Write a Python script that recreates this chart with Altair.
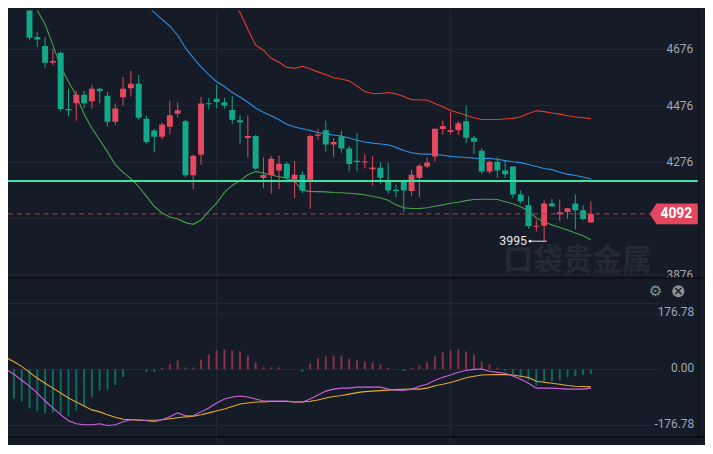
import altair as alt
import pandas as pd

# ---------------- data ----------------
# candles, first visible candle is bar index 3
opens = [4860, 4720, 4688, 4628, 4664, 4464, 4485, 4515, 4492, 4536,
         4511, 4419, 4506, 4538, 4554, 4430, 4388, 4366, 4401, 4447,
         4421, 4229, 4302, 4485, 4501, 4488, 4461, 4424, 4361, 4368,
         4219, 4230, 4246, 4270, 4213, 4231, 4213, 4369, 4389, 4338,
         4367, 4324, 4281, 4274, 4250, 4256, 4210, 4178, 4208, 4173,
         4220, 4260, 4296, 4393, 4383, 4389, 4421, 4362, 4316, 4242,
         4277, 4246, 4260, 4161, 4123, 4046, 4050, 4129, 4091, 4099,
         4129, 4105, 4061]
highs = [4878, 4739, 4719, 4678, 4669, 4536, 4529, 4529, 4550, 4540,
         4524, 4484, 4578, 4599, 4585, 4441, 4394, 4417, 4494, 4488,
         4426, 4302, 4508, 4503, 4550, 4504, 4510, 4442, 4442, 4372,
         4292, 4297, 4299, 4277, 4280, 4243, 4374, 4392, 4423, 4361,
         4387, 4333, 4378, 4304, 4297, 4274, 4274, 4196, 4213, 4248,
         4269, 4292, 4394, 4424, 4454, 4422, 4476, 4368, 4325, 4281,
         4292, 4281, 4260, 4175, 4154, 4070, 4140, 4146, 4143, 4112,
         4161, 4122, 4137]
lows = [4708, 4684, 4611, 4620, 4456, 4439, 4423, 4466, 4466, 4485,
        4402, 4407, 4476, 4508, 4426, 4341, 4310, 4357, 4374, 4435,
        4222, 4180, 4266, 4462, 4466, 4466, 4411, 4341, 4292, 4249,
        4183, 4164, 4180, 4204, 4148, 4166, 4111, 4355, 4313, 4295,
        4309, 4243, 4243, 4253, 4192, 4199, 4164, 4152, 4099, 4157,
        4150, 4255, 4278, 4373, 4374, 4373, 4343, 4304, 4234, 4234,
        4220, 4220, 4148, 4129, 4040, 4029, 3995, 4117, 4068, 4075,
        4037, 4068, 4061]
closes = [4717, 4711, 4628, 4635, 4464, 4460, 4515, 4485, 4536, 4527,
          4419, 4466, 4536, 4554, 4433, 4347, 4366, 4409, 4442, 4460,
          4229, 4298, 4484, 4481, 4489, 4477, 4426, 4417, 4368, 4253,
          4230, 4288, 4270, 4220, 4231, 4175, 4368, 4374, 4338, 4347,
          4324, 4269, 4276, 4278, 4257, 4220, 4175, 4173, 4175, 4231,
          4263, 4274, 4394, 4404, 4389, 4414, 4362, 4348, 4242, 4277,
          4246, 4233, 4161, 4137, 4049, 4050, 4129, 4119, 4098, 4112,
          4105, 4074, 4092]

# Bollinger bands (upper from bar 27, middle from bar 17, lower from bar 2)
upper_band = [5017, 4930, 4853, 4807, 4747, 4691, 4673, 4644, 4630, 4612,
              4609, 4616, 4606, 4596, 4586, 4575, 4571, 4564, 4546, 4526,
              4519, 4519, 4523, 4518, 4509, 4497, 4497, 4495, 4484, 4472,
              4459, 4451, 4442, 4433, 4427, 4427, 4427, 4429, 4431, 4437,
              4448, 4458, 4455, 4450, 4446, 4440, 4436, 4433, 4430]
mid_band = [4849, 4831, 4807, 4782, 4758, 4726, 4681, 4646, 4614, 4586,
            4561, 4544, 4523, 4507, 4488, 4468, 4453, 4440, 4426, 4410,
            4400, 4394, 4388, 4381, 4376, 4372, 4368, 4361, 4353, 4347,
            4343, 4340, 4337, 4328, 4317, 4309, 4305, 4304, 4303, 4300,
            4296, 4294, 4292, 4290, 4289, 4289, 4286, 4281, 4277, 4274,
            4267, 4260, 4253, 4249, 4240, 4233, 4228, 4223, 4216]
lower_band = [4877, 4842, 4814, 4765, 4691, 4614, 4561, 4512, 4446, 4396,
              4354, 4312, 4267, 4239, 4217, 4189, 4154, 4119, 4095, 4081,
              4074, 4061, 4055, 4070, 4102, 4130, 4168, 4193, 4210, 4231,
              4242, 4237, 4230, 4224, 4219, 4207, 4175, 4172, 4171, 4170,
              4168, 4167, 4165, 4163, 4160, 4154, 4149, 4140, 4124, 4114,
              4111, 4111, 4114, 4119, 4124, 4130, 4133, 4139, 4143, 4144,
              4144, 4143, 4135, 4128, 4117, 4102, 4077, 4063, 4053, 4044,
              4035, 4024, 4014, 4000]

# MACD panel (bars 0..75)
hist = [-80.1, -92.6, -100.7, -123.8, -131.9, -139.4, -135.0, -142.5, -147.5, -130.0,
        -116.3, -88.2, -67.7, -64.5, -49.0, -24.0, 0, 0, -8.4, -8.4,
        4.1, 15.6, 28.1, 6.2, 6.2, 31.2, 46.8, 59.2, 62.4, 59.2,
        56.1, 43.7, 21.8, 6.2, 6.2, 6.2, 0, 0, -8.4, 18.7,
        34.3, 40.5, 43.7, 43.7, 34.3, 28.1, 24.9, 21.8, 15.6, 4.1,
        0, -5.3, 4.1, 12.5, 21.8, 40.5, 53.0, 59.2, 62.4, 56.1,
        46.8, 24.9, 15.6, 6.2, -5.3, -15.6, -24.9, -34.3, -50.8, -38.4,
        -37.4, -34.3, -24.9, -20.9, -17.8, -14.7]
dif = [0, -15.6, -34.3, -53.0, -74.8, -99.8, -121.6, -143.4, -162.1, -171.5,
       -174.6, -174.6, -171.5, -176.78, -174.6, -165.3, -159.0, -159.0, -162.1, -165.3,
       -159.0, -149.7, -137.2, -146.5, -146.5, -134.1, -121.6, -106.0, -93.5, -87.3,
       -84.2, -87.3, -93.5, -99.8, -99.8, -99.8, -99.8, -102.9, -102.9, -93.5,
       -81.1, -68.6, -62.4, -59.2, -59.2, -56.1, -56.1, -56.1, -56.1, -62.4,
       -65.5, -65.5, -62.4, -53.0, -46.8, -34.3, -24.9, -17.8, -9.4, -3.1,
       0, 0.9, -6.2, -9.4, -12.5, -20.9, -31.2, -43.7, -59.2, -59.2,
       -59.2, -60.8, -62.4, -62.4, -62.4, -59.2]
dea = [37.4, 24.0, 9.4, -9.4, -28.1, -43.7, -59.2, -74.8, -90.4, -102.9,
       -115.4, -127.8, -134.1, -143.4, -151.2, -157.5, -159.0, -160.6, -160.6, -160.6,
       -159.0, -155.9, -152.8, -149.7, -148.1, -143.4, -137.2, -131.0, -124.7, -116.9,
       -109.1, -106.0, -102.9, -102.9, -101.3, -101.3, -101.3, -102.9, -102.9, -100.7,
       -96.7, -90.4, -85.7, -82.6, -78.0, -73.3, -70.2, -68.6, -67.0, -65.5,
       -63.9, -63.0, -62.4, -62.4, -59.2, -51.4, -46.8, -41.5, -34.3, -26.5,
       -21.8, -17.8, -17.1, -16.5, -16.5, -17.8, -21.8, -25.9, -37.4, -40.5,
       -43.7, -46.8, -50.8, -53.0, -53.9, -55.2]

price_ticks = [4676, 4476, 4276, 4076, 3876]
price_labels = ["4676", "4476", "4276", "", "3876"]
macd_ticks = [176.78, 0.0, -176.78]
macd_labels = ["176.78", "0.00", "-176.78"]
support_level = 4209
last_price = 4092
low_mark = 3995
vgrid_bars = [27, 57]

# ---------------- frames ----------------
N = len(hist)
first = N - len(opens)
candles = pd.DataFrame({"i": list(range(first, N)), "o": opens, "h": highs,
                        "l": lows, "c": closes})
bands = pd.DataFrame({
    "i": list(range(N)),
    "up": [None] * (N - len(upper_band)) + upper_band,
    "mid": [None] * (N - len(mid_band)) + mid_band,
    "low": [None] * (N - len(lower_band)) + lower_band,
})
macd = pd.DataFrame({"i": list(range(N)), "hist": hist, "dif": dif, "dea": dea})
pgrid = pd.DataFrame({"v": price_ticks, "t": price_labels})
mgrid = pd.DataFrame({"v": [208.0] + macd_ticks})
mlab = pd.DataFrame({"v": macd_ticks, "t": macd_labels})
vgrid = pd.DataFrame({"i": vgrid_bars})
one = pd.DataFrame({"v": [support_level], "p": [last_price], "lo": [low_mark],
                    "t": [str(last_price)], "lt": [str(low_mark)]})

BG = "#161c27"
GRID = "#232a36"
UP = "#e5485f"
DOWN = "#12a98b"
LAB = "#a2a7b0"
FONT = "Roboto"

W = 705
H1 = 270
H2 = 167

xs = alt.Scale(domain=[0.875, 89], nice=False, zero=False)
X = alt.X("i:Q", scale=xs, axis=None)
ps = alt.Scale(domain=[3866.5, 4813.9], nice=False, zero=False)
ms = alt.Scale(domain=[-230.7, 289.96], nice=False, zero=False)


def PY(f):
    return alt.Y(f, type="quantitative", scale=ps, axis=None)


def MY(f):
    return alt.Y(f, type="quantitative", scale=ms, axis=None)


# ---------------- main panel ----------------
hgrid = alt.Chart(pgrid).mark_rule(color=GRID, strokeWidth=1, clip=True).encode(
    y=PY("v"), x=alt.value(0), x2=alt.value(666))
vg1 = alt.Chart(vgrid).mark_rule(color=GRID, strokeWidth=1, clip=True).encode(x=X)

watermark = alt.Chart(one).mark_text(
    text="口袋贵金属", font="Noto Sans CJK SC", fontSize=30, fontWeight="bold",
    color="#232a36", align="center", baseline="middle", clip=True
).encode(x=alt.value(576), y=alt.value(253))

up_line = alt.Chart(bands).mark_line(color="#e8392b", strokeWidth=1.1, clip=True).encode(
    x=X, y=PY("up"))
mid_line = alt.Chart(bands).mark_line(color="#2d8fe3", strokeWidth=1.1, clip=True).encode(
    x=X, y=PY("mid"))
low_line = alt.Chart(bands).mark_line(color="#46a04b", strokeWidth=1.1, clip=True).encode(
    x=X, y=PY("low"))

ccol = alt.condition("datum.c >= datum.o", alt.value(UP), alt.value(DOWN))
wicks = alt.Chart(candles).mark_rule(strokeWidth=1, clip=True).encode(
    x=X, y=PY("l"), y2="h", color=ccol)
bodies = alt.Chart(candles).mark_bar(size=6, clip=True).encode(
    x=X, y=PY("o"), y2="c", color=ccol)

support = alt.Chart(one).mark_rule(color="#3fe3a0", strokeWidth=2, clip=True).encode(
    y=PY("v"), x=alt.value(0), x2=alt.value(698))
lastline = alt.Chart(one).mark_rule(color="#b8404f", strokeWidth=1, strokeDash=[5, 4],
                                    clip=True).encode(
    y=PY("p"), x=alt.value(0), x2=alt.value(649))
badge = alt.Chart(one).mark_point(
    shape="M -1 0 L -0.714 -0.4286 L 1 -0.4286 L 1 0.4286 L -0.714 0.4286 Z",
    size=2401, filled=True, fill="#e4475d", opacity=1, strokeWidth=0, clip=True
).encode(x=alt.value(673.5), y=PY("p"))
badge_txt = alt.Chart(one).mark_text(
    font=FONT, fontSize=14, fontWeight="bold", color="white", align="center",
    baseline="middle", clip=True
).encode(x=alt.value(676), y=PY("p"), text="t:N")

plabels = alt.Chart(pgrid).mark_text(
    font=FONT, fontSize=12, color=LAB, align="right", baseline="middle", clip=True
).encode(x=alt.value(693), y=PY("v"), text="t:N")

low_txt = alt.Chart(one).mark_text(
    font=FONT, fontSize=12.5, color="#e6e8ec", align="right", baseline="middle", clip=True
).encode(x=alt.value(525), y=PY("lo"), text="lt:N")
low_rule = alt.Chart(one).mark_rule(color="#e6e8ec", strokeWidth=1, clip=True).encode(
    y=PY("lo"), x=alt.value(528), x2=alt.value(545))
low_dot = alt.Chart(one).mark_point(shape="circle", size=8, filled=True, color="#e6e8ec",
                                    opacity=1, clip=True).encode(
    x=alt.value(528), y=PY("lo"))

rborder1 = alt.Chart(one).mark_rule(color="#0d1118", strokeWidth=1.5, clip=True).encode(
    x=alt.value(698.5), y=alt.value(0), y2=alt.value(H1))

main = alt.layer(
    hgrid, vg1, watermark, low_line, mid_line, up_line, wicks, bodies,
    support, lastline, badge, badge_txt, plabels, low_txt, low_rule, low_dot, rborder1
).properties(width=W, height=H1)

# ---------------- MACD panel ----------------
mg = alt.Chart(mgrid).mark_rule(color=GRID, strokeWidth=1, clip=True).encode(
    y=MY("v"), x=alt.value(0), x2=alt.value(660))
vg2 = alt.Chart(vgrid).mark_rule(color=GRID, strokeWidth=1, clip=True).encode(x=X)
bars = alt.Chart(macd).mark_bar(size=2, clip=True).encode(
    x=X, y=MY("hist"),
    color=alt.condition("datum.hist > 0", alt.value("#8a3244"), alt.value("#0d6a5c")))
dea_line = alt.Chart(macd).mark_line(color="#e3aa2e", strokeWidth=1.1, clip=True).encode(
    x=X, y=MY("dea"))
dif_line = alt.Chart(macd).mark_line(color="#cf63de", strokeWidth=1.1, clip=True).encode(
    x=X, y=MY("dif"))
mlabels = alt.Chart(mlab).mark_text(
    font=FONT, fontSize=12, color=LAB, align="right", baseline="middle", dy=-1, clip=True
).encode(x=alt.value(694), y=MY("v"), text="t:N")

sep_top = alt.Chart(one).mark_rule(color="#0a0d13", strokeWidth=2, clip=True).encode(
    y=alt.value(0.5), x=alt.value(0), x2=alt.value(W))
sep_bot = alt.Chart(one).mark_rule(color="#0a0d13", strokeWidth=2, clip=True).encode(
    y=alt.value(161.5), x=alt.value(0), x2=alt.value(W))
gear = alt.Chart(one).mark_text(
    text="⚙", font="DejaVu Sans", fontSize=15, color="#8a9099", align="center",
    baseline="middle", clip=True
).encode(x=alt.value(655), y=alt.value(14))
close_c = alt.Chart(one).mark_point(shape="circle", size=150, filled=True,
                                    color="#8a9099", opacity=1, clip=True).encode(
    x=alt.value(678), y=alt.value(14))
close_x = alt.Chart(one).mark_text(
    text="×", font="DejaVu Sans", fontSize=12, fontWeight="bold", color=BG,
    align="center", baseline="middle", clip=True
).encode(x=alt.value(678), y=alt.value(14))
rborder2 = alt.Chart(one).mark_rule(color="#0d1118", strokeWidth=1.5, clip=True).encode(
    x=alt.value(698.5), y=alt.value(0), y2=alt.value(H2))

macd_panel = alt.layer(
    mg, vg2, bars, dea_line, dif_line, mlabels, sep_top, sep_bot, gear, close_c,
    close_x, rborder2
).properties(width=W, height=H2)

chart = alt.vconcat(main, macd_panel, spacing=0).properties(
    padding=0, background=BG
).configure_view(strokeWidth=0).configure_concat(spacing=0)

chart.save("out.html", embed_options={"renderer": "svg", "actions": False})
